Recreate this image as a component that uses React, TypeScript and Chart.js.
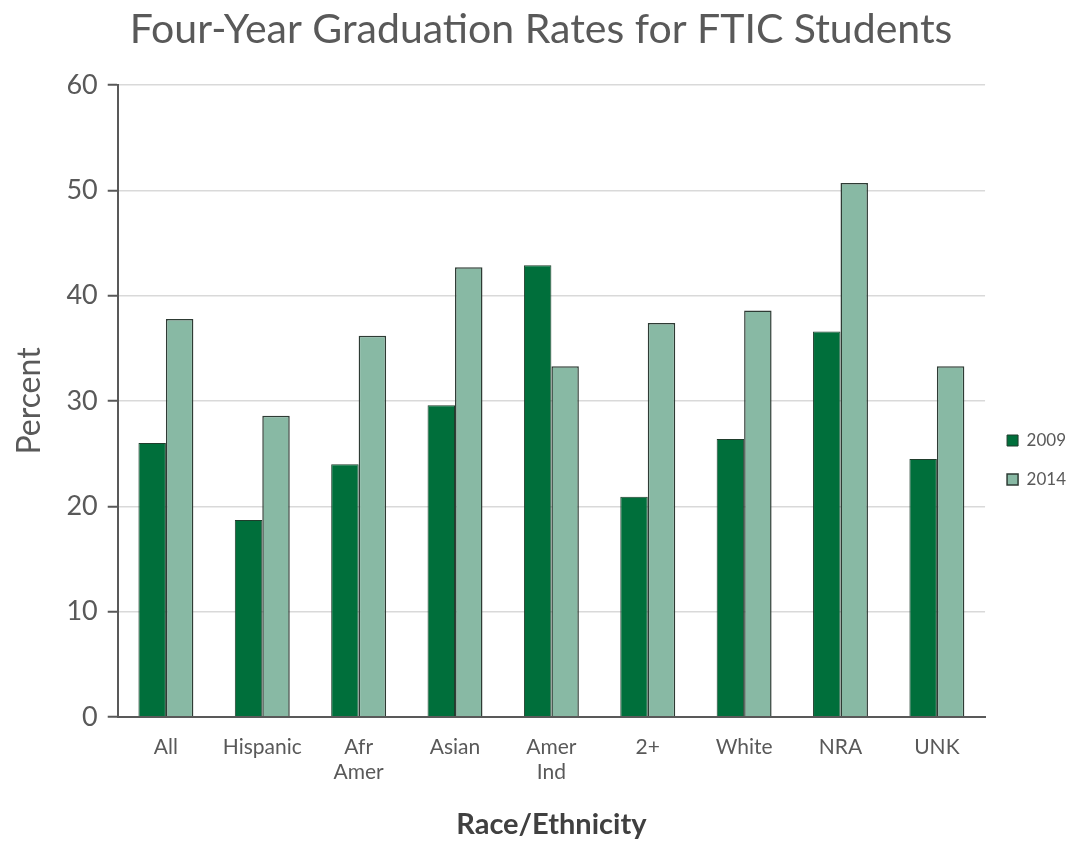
import React, { useEffect, useRef } from "react";
import { Chart, registerables } from "chart.js";

Chart.register(...registerables);

const categories: (string | string[])[] = ["All", "Hispanic", ["Afr", "Amer"], "Asian", ["Amer", "Ind"], "2+", "White", "NRA", "UNK"];
const values2009 = [26.0, 18.7, 24.0, 29.6, 42.9, 20.9, 26.4, 36.6, 24.5];
const values2014 = [37.8, 28.6, 36.2, 42.7, 33.3, 37.4, 38.6, 50.7, 33.3];
const yTicks = [0, 10, 20, 30, 40, 50, 60];

const FONT = "Lato, 'Open Sans', sans-serif";

const legendShift = {
  id: "legendShift",
  afterUpdate(chart: any) {
    const lg = chart.legend;
    if (!lg) return;
    const target = 460;
    const cur = (lg.top + lg.bottom) / 2;
    const d = target - cur;
    lg.top += d;
    lg.bottom += d;
    lg.adjustHitBoxes();
  },
};

export default function App() {
  const ref = useRef<HTMLCanvasElement | null>(null);
  useEffect(() => {
    if (!ref.current) return;
    const chart = new Chart(ref.current, {
      type: "bar",
      data: {
        labels: categories,
        datasets: [
          {
            label: "2009",
            data: values2009,
            backgroundColor: "#006f3b",
            borderColor: "#1f3d2c",
            borderWidth: 1,
            categoryPercentage: 0.57,
            barPercentage: 1.0,
          },
          {
            label: "2014",
            data: values2014,
            backgroundColor: "#88b9a4",
            borderColor: "#2e3b34",
            borderWidth: 1.5,
            categoryPercentage: 0.57,
            barPercentage: 1.0,
          },
        ],
      },
      plugins: [legendShift],
      options: {
        responsive: false,
        animation: false,
        devicePixelRatio: 1,
        layout: { padding: { left: 6, right: 7, top: 0, bottom: 2 } },
        plugins: {
          title: {
            display: true,
            text: "Four-Year Graduation Rates for FTIC Students",
            color: "#595959",
            font: { family: FONT, size: 41, weight: "normal" },
            padding: { top: 5, bottom: 31 },
          },
          legend: {
            position: "right",
            labels: {
              color: "#595959",
              font: { family: FONT, size: 17 },
              boxWidth: 11,
              boxHeight: 11,
              padding: 22,
            },
          },
          tooltip: { enabled: false },
        },
        scales: {
          x: {
            grid: { display: false, drawTicks: false },
            border: { display: true, color: "#595959", width: 2 },
            ticks: {
              color: "#595959",
              font: { family: FONT, size: 21 },
              padding: 18,
              maxRotation: 0,
              autoSkip: false,
            },
            title: {
              display: true,
              text: "Race/Ethnicity",
              color: "#404040",
              font: { family: FONT, size: 29, weight: "bold" },
              padding: { top: 4, bottom: 0 },
            },
          },
          y: {
            min: 0,
            max: 60,
            afterBuildTicks: (axis: any) => {
              axis.ticks = yTicks.map((v) => ({ value: v }));
            },
            grid: {
              color: "#d9d9d9",
              lineWidth: 1.5,
              tickColor: "#595959",
              tickLength: 10,
              tickWidth: 2,
            },
            border: { display: true, color: "#595959", width: 2 },
            ticks: {
              color: "#595959",
              font: { family: FONT, size: 27 },
              padding: 10,
            },
            title: {
              display: true,
              text: "Percent",
              color: "#595959",
              font: { family: FONT, size: 32 },
              padding: { bottom: 8 },
            },
          },
        },
      },
    });
    return () => chart.destroy();
  }, []);
  return (
    <div style={{ position: "fixed", left: 0, top: 0, width: 1083, height: 844, background: "#fff" }}>
      <canvas ref={ref} width={1083} height={844} />
    </div>
  );
}
